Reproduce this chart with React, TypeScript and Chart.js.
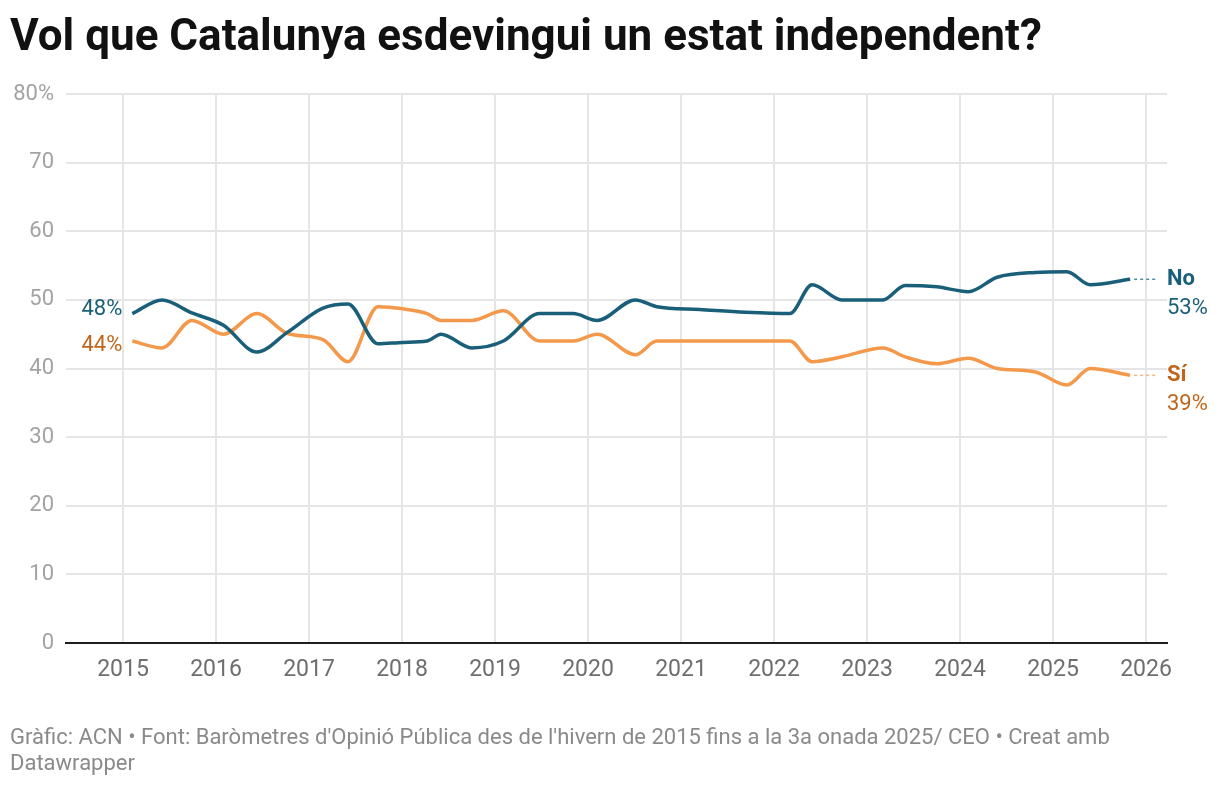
import { useEffect, useRef } from "react";
import { Chart, registerables } from "chart.js";

Chart.register(...registerables);

// survey dates (decimal years) of the CEO barometers
const surveyDates = [
  2015.1, 2015.42, 2015.74, 2016.08, 2016.44, 2016.77, 2017.15, 2017.42, 2017.74,
  2018.01, 2018.27, 2018.42, 2018.75, 2019.09, 2019.48, 2019.84, 2020.1, 2020.51,
  2020.74, 2021.2, 2021.69, 2022.17, 2022.41, 2022.73, 2023.17, 2023.41, 2023.75,
  2024.09, 2024.4, 2024.81, 2025.15, 2025.4, 2025.83,
];

const noValues = [
  48, 50, 48.1, 46.3, 42.4, 45.3, 48.8, 49.4, 43.6,
  43.8, 44, 45, 43, 44, 48, 48, 47, 50,
  49, 48.6, 48.2, 48, 52.2, 50, 50, 52.1, 51.9,
  51.2, 53.3, 54, 54.1, 52.2, 53,
];

const siValues = [
  44, 43, 47, 45, 48, 45.1, 44.2, 41, 49,
  48.7, 48, 47, 47, 48.4, 44, 44, 45, 42,
  44, 44, 44, 44, 41, 41.7, 43, 41.7, 40.7,
  41.5, 40, 39.5, 37.6, 40, 39,
];

const yearTicks = [2015, 2016, 2017, 2018, 2019, 2020, 2021, 2022, 2023, 2024, 2025, 2026];

const seriesNames = ["No", "Sí"];

const BLUE = "#1a5f7a";
const ORANGE = "#f4994b";
const ORANGE_TEXT = "#c0661c";
const GRID = "#e5e5e5";

const endLabels = {
  id: "endLabels",
  afterDatasetsDraw(chart: any) {
    const { ctx, chartArea } = chart;
    const xs = chart.scales.x;
    const ys = chart.scales.y;
    const series = [
      { name: seriesNames[0], values: noValues, line: BLUE, text: BLUE, dash: "#4d8aa3" },
      { name: seriesNames[1], values: siValues, line: ORANGE, text: ORANGE_TEXT, dash: "#f7b27a" },
    ];
    const last = surveyDates.length - 1;

    // left (first value) labels, pushed apart when too close
    const firstYs = series.map((s) => ys.getPixelForValue(s.values[0]));
    const minGap = 36;
    if (Math.abs(firstYs[1] - firstYs[0]) < minGap) {
      const mid = (firstYs[0] + firstYs[1]) / 2;
      const sign = firstYs[0] < firstYs[1] ? -1 : 1;
      firstYs[0] = mid + (sign * minGap) / 2;
      firstYs[1] = mid - (sign * minGap) / 2;
    }
    const firstX = xs.getPixelForValue(surveyDates[0]);

    ctx.save();
    ctx.textBaseline = "middle";
    series.forEach((s, i) => {
      ctx.font = "22px Roboto";
      ctx.fillStyle = s.text;
      ctx.textAlign = "right";
      ctx.fillText(Math.round(s.values[0]) + "%", firstX - 10, firstYs[i]);

      const lx = xs.getPixelForValue(surveyDates[last]);
      const ly = ys.getPixelForValue(s.values[last]);
      ctx.strokeStyle = s.dash;
      ctx.lineWidth = 1.5;
      ctx.setLineDash([3, 3]);
      ctx.beginPath();
      ctx.moveTo(lx + 4, ly);
      ctx.lineTo(chartArea.right - 9, ly);
      ctx.stroke();
      ctx.setLineDash([]);

      ctx.textAlign = "left";
      ctx.fillStyle = s.text;
      ctx.font = "bold 22px Roboto";
      ctx.fillText(s.name, chartArea.right, ly);
      ctx.font = "22px Roboto";
      ctx.fillText(Math.round(s.values[last]) + "%", chartArea.right, ly + 29);
    });
    ctx.restore();
  },
};

function IndependenceChart() {
  const canvasRef = useRef<HTMLCanvasElement>(null);
  const chartRef = useRef<Chart | null>(null);

  useEffect(() => {
    if (!canvasRef.current) return;
    Chart.defaults.font.family = "Roboto";

    if (chartRef.current) chartRef.current.destroy();

    chartRef.current = new Chart(canvasRef.current, {
      type: "line",
      data: {
        datasets: [
          {
            label: seriesNames[0],
            data: surveyDates.map((d, i) => ({ x: d, y: noValues[i] })),
            borderColor: BLUE,
            borderWidth: 3.5,
            pointRadius: 0,
            cubicInterpolationMode: "monotone",
          },
          {
            label: seriesNames[1],
            data: surveyDates.map((d, i) => ({ x: d, y: siValues[i] })),
            borderColor: ORANGE,
            borderWidth: 3.5,
            pointRadius: 0,
            cubicInterpolationMode: "monotone",
          },
        ],
      },
      options: {
        responsive: false,
        animation: false,
        layout: { padding: { top: 94, right: 53, bottom: 103, left: 0 } },
        plugins: {
          legend: { display: false },
          tooltip: { enabled: false },
        },
        scales: {
          x: {
            type: "linear",
            min: 2014.387,
            max: 2026.226,
            afterBuildTicks: (s: any) => {
              s.ticks = yearTicks.map((v) => ({ value: v }));
            },
            afterFit: (s: any) => {
              s.height = 40;
            },
            ticks: {
              callback: (v: any) => String(v),
              color: "#6e6e6e",
              font: { size: 23 },
              padding: 13,
              maxRotation: 0,
            },
            grid: { color: GRID, lineWidth: 2, drawTicks: false },
            border: { display: true, color: "#1d1d1d", width: 2 },
          },
          y: {
            min: 0,
            max: 80,
            afterFit: (s: any) => {
              s.width = 66;
            },
            ticks: {
              stepSize: 10,
              callback: (v: any) => (v === 80 ? "80%" : String(v)),
              color: "#a3a3a3",
              font: { size: 22 },
              padding: 12,
            },
            grid: { color: GRID, lineWidth: 2, drawTicks: false },
            border: { display: false },
          },
        },
      },
      plugins: [endLabels],
    });

    const chart = chartRef.current;
    document.fonts.load("22px Roboto").then(() => {
      if (chartRef.current === chart) chart.update();
    });

    return () => {
      if (chartRef.current) {
        chartRef.current.destroy();
        chartRef.current = null;
      }
    };
  }, []);

  return <canvas ref={canvasRef} width={1220} height={786} style={{ position: "absolute", left: 0, top: 0 }} />;
}

export default function App() {
  return (
    <div
      style={{
        position: "absolute",
        left: 0,
        top: 0,
        width: 1220,
        height: 786,
        background: "#fff",
        fontFamily: "Roboto, sans-serif",
        overflow: "hidden",
      }}
    >
      <IndependenceChart />
      <div
        style={{
          position: "absolute",
          left: 10,
          top: 13,
          fontSize: 44,
          lineHeight: "44px",
          fontWeight: 700,
          color: "#111",
          whiteSpace: "nowrap",
        }}
      >
        Vol que Catalunya esdevingui un estat independent?
      </div>
      <div
        style={{
          position: "absolute",
          left: 10,
          top: 724,
          fontSize: 22,
          lineHeight: "26px",
          color: "#8a8a8a",
          whiteSpace: "nowrap",
        }}
      >
        Gràfic: ACN • Font: Baròmetres d'Opinió Pública des de l'hivern de 2015 fins a la 3a onada 2025/ CEO • Creat amb
        <br />
        Datawrapper
      </div>
    </div>
  );
}
